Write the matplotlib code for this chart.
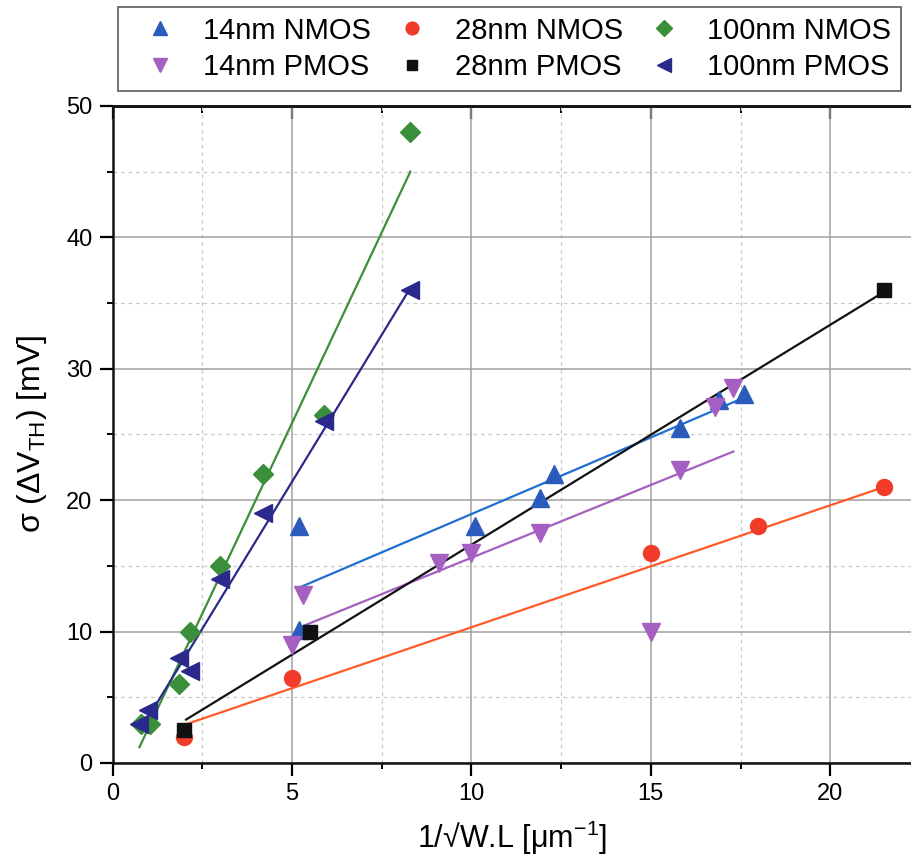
import matplotlib
matplotlib.use('Agg')
import matplotlib.pyplot as plt
from matplotlib.ticker import MultipleLocator

plt.rcParams['font.family'] = ['Liberation Sans', 'DejaVu Sans']
plt.rcParams['mathtext.fontset'] = 'custom'
plt.rcParams['mathtext.rm'] = 'Liberation Sans'
plt.rcParams['mathtext.it'] = 'Liberation Sans:italic'

# data
n14_x = [5.2, 5.2, 10.1, 11.9, 12.3, 15.8, 16.9, 17.6]
n14_y = [18.0, 10.1, 18.0, 20.2, 22.0, 25.5, 27.6, 28.1]
p14_x = [5.0, 5.3, 9.1, 10.0, 11.9, 15.0, 15.8, 16.8, 17.3]
p14_y = [9.0, 12.8, 15.2, 16.0, 17.5, 10.0, 22.3, 27.1, 28.5]
n28_x = [2.0, 5.0, 15.0, 18.0, 21.5]
n28_y = [2.0, 6.5, 16.0, 18.0, 21.0]
p28_x = [2.0, 5.5, 21.5]
p28_y = [2.5, 10.0, 36.0]
n100_x = [0.8, 1.05, 1.85, 2.15, 3.0, 4.2, 5.9, 8.3]
n100_y = [3.0, 3.0, 6.0, 10.0, 15.0, 22.0, 26.5, 48.0]
p100_x = [0.75, 1.0, 1.85, 2.15, 3.0, 4.2, 5.9, 8.3]
p100_y = [3.0, 4.0, 8.0, 7.0, 14.0, 19.0, 26.0, 36.0]

# fitted lines (end points)
fit_n14_x, fit_n14_y = [5.25, 17.6], [13.4, 27.8]
fit_p14_x, fit_p14_y = [5.2, 17.3], [10.3, 23.7]
fit_n28_x, fit_n28_y = [2.0, 21.5], [2.9, 21.0]
fit_p28_x, fit_p28_y = [2.05, 21.35], [3.3, 35.6]
fit_n100_x, fit_n100_y = [0.75, 8.3], [1.2, 45.0]
fit_p100_x, fit_p100_y = [0.8, 8.2], [2.6, 35.7]

labels = ['14nm NMOS', '14nm PMOS', '28nm NMOS', '28nm PMOS', '100nm NMOS', '100nm PMOS']

c_n14 = '#2b5bbd'
c_n14_line = '#1f6fd0'
c_p14 = '#a45fc0'
c_n28 = '#f03c28'
c_n28_line = '#ff5a2a'
c_p28 = '#111111'
c_n100 = '#3b8f3b'
c_p100 = '#2b2a8c'

fig = plt.figure(figsize=(9.11, 8.68), dpi=100)
ax = fig.add_axes([0.1235, 0.121, 0.8765, 0.757])

lw = 1.6
ax.plot(fit_n14_x, fit_n14_y, color=c_n14_line, lw=lw, zorder=3)
ax.plot(fit_p14_x, fit_p14_y, color=c_p14, lw=lw, zorder=3)
ax.plot(fit_n28_x, fit_n28_y, color=c_n28_line, lw=lw, zorder=3)
ax.plot(fit_p28_x, fit_p28_y, color=c_p28, lw=lw, zorder=3)
ax.plot(fit_n100_x, fit_n100_y, color=c_n100, lw=lw, zorder=3)
ax.plot(fit_p100_x, fit_p100_y, color=c_p100, lw=lw, zorder=3)

h1, = ax.plot(n14_x, n14_y, '^', color=c_n14, ms=12.5, ls='none', zorder=4)
h2, = ax.plot(p14_x, p14_y, 'v', color=c_p14, ms=12.5, ls='none', zorder=4)
h3, = ax.plot(n28_x, n28_y, 'o', color=c_n28, ms=11.5, ls='none', zorder=4)
h4, = ax.plot(p28_x, p28_y, 's', color=c_p28, ms=9.5, ls='none', zorder=4)
h5, = ax.plot(n100_x, n100_y, 'D', color=c_n100, ms=10, ls='none', zorder=4)
h6, = ax.plot(p100_x, p100_y, '<', color=c_p100, ms=12.5, ls='none', zorder=4)

ax.set_xlim(0, 22.25)
ax.set_ylim(0, 50)
ax.xaxis.set_major_locator(MultipleLocator(5))
ax.xaxis.set_minor_locator(MultipleLocator(2.5))
ax.yaxis.set_major_locator(MultipleLocator(10))
ax.yaxis.set_minor_locator(MultipleLocator(5))

ax.grid(True, which='major', color='#a0a0a0', lw=1.1, ls='-', zorder=0)
ax.grid(True, which='minor', color='#c8c8c8', lw=0.9, ls=(0, (3, 3)), zorder=0)

for s in ['left', 'bottom', 'top']:
    ax.spines[s].set_linewidth(1.8)
    ax.spines[s].set_color('#111111')
ax.spines['right'].set_visible(False)

ax.tick_params(which='major', direction='out', length=9.5, width=1.6, labelsize=17,
               bottom=True, left=True, top=False, right=False, pad=5)
ax.tick_params(which='minor', direction='out', length=4.5, width=1.4,
               bottom=True, left=True, top=False, right=False)
ax2 = ax.secondary_xaxis('top')
ax2.xaxis.set_major_locator(MultipleLocator(5))
ax2.xaxis.set_minor_locator(MultipleLocator(2.5))
ax2.tick_params(axis='x', which='major', direction='in', length=9, width=1.6, labeltop=False)
ax2.tick_params(axis='x', which='minor', direction='in', length=5, width=1.4)
ax2.spines['top'].set_linewidth(1.8)

ax.set_xlabel('1/√W.L [μm$^{\\mathrm{-1}}$]', fontsize=22, labelpad=10)
ax.set_ylabel('σ (ΔV$_{\\mathrm{TH}}$) [mV]', fontsize=23, labelpad=12)

# legend fills column by column: 3 columns, NMOS on top row, PMOS on bottom row
leg = fig.legend([h1, h2, h3, h4, h5, h6], labels,
                 ncol=3, loc='upper left', bbox_to_anchor=(118 / 911, 1 - 7 / 868),
                 borderaxespad=0, fontsize=21, frameon=True, fancybox=False,
                 edgecolor='#333333', handlelength=2.2, handletextpad=0.38,
                 columnspacing=0.3, labelspacing=0.3, borderpad=0.33, markerscale=0.8)
leg.get_frame().set_linewidth(1.2)

fig.savefig('out.png', dpi=100)
